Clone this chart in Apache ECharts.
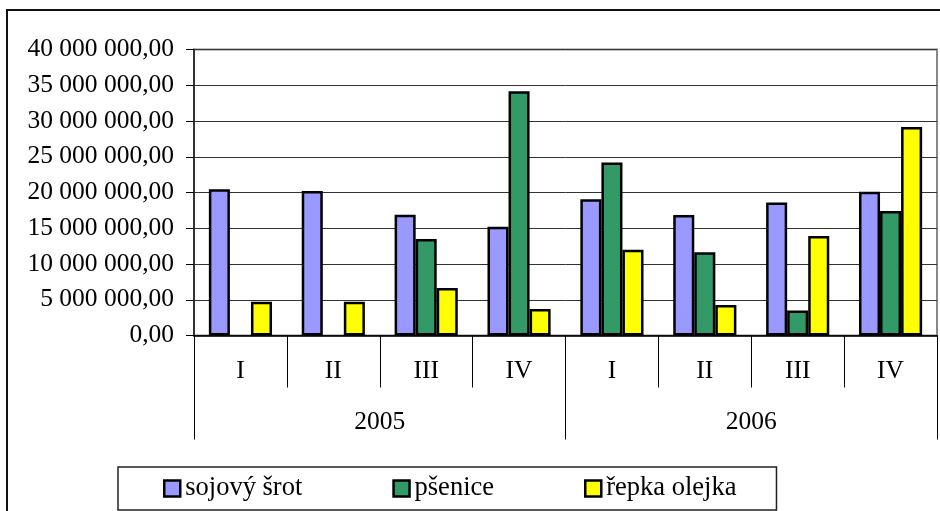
<!DOCTYPE html>
<html>
<head>
<meta charset="utf-8">
<script src="https://cdn.jsdelivr.net/npm/echarts@6/dist/echarts.min.js"></script>
<style>
html, body { margin: 0; padding: 0; background: #fff; }
#chart { width: 940px; height: 511px; }
</style>
</head>
<body>
<div id="chart"></div>
<script>
var quarters = ['I', 'II', 'III', 'IV', 'I', 'II', 'III', 'IV'];
var years = ['2005', '2006'];
var seriesNames = ['sojový šrot', 'pšenice', 'řepka olejka'];
var sojovySrot = [20450000, 20200000, 16900000, 15200000, 19050000, 16850000, 18600000, 20100000];
var psenice = [null, null, 13500000, 34150000, 24200000, 11650000, 3500000, 17400000];
var repkaOlejka = [4730000, 4730000, 6650000, 3700000, 12000000, 4250000, 13900000, 29150000];
var colors = ['#9999FF', '#339966', '#FFFF00'];

var font = "'Liberation Serif', 'Times New Roman', serif";
var fontSize = 25.5;

// 40000000 -> "40 000 000,00"
function formatValue(v) {
	var s = String(Math.round(v));
	var out = '';
	while (s.length > 3) {
		out = ' ' + s.slice(-3) + out;
		s = s.slice(0, -3);
	}
	return s + out + ',00';
}

var myChart = echarts.init(document.getElementById('chart'));

var dataList = [sojovySrot, psenice, repkaOlejka];
var series = [];
for (var i = 0; i < dataList.length; i++) {
	series.push({
		name: seriesNames[i],
		type: 'bar',
		xAxisIndex: 0,
		data: dataList[i],
		barGap: '0%',
		barCategoryGap: '32%',
		itemStyle: { color: colors[i], borderColor: '#000', borderWidth: 2.5 }
	});
}

var option = {
	animation: false,
	backgroundColor: '#fff',
	textStyle: { fontFamily: font, color: '#000' },
	graphic: [{
		type: 'rect',
		shape: { x: 7, y: 10, width: 1000, height: 1000 },
		style: { fill: 'none', stroke: '#111', lineWidth: 2 },
		z: -10
	}],
	grid: {
		left: 194,
		right: 3,
		top: 49.5,
		height: 286,
		show: true,
		borderColor: '#888',
		borderWidth: 2,
		backgroundColor: 'transparent'
	},
	legend: {
		left: 118,
		top: 467,
		width: 720,
		padding: [8, 40, 8, 45],
		borderColor: '#222',
		borderWidth: 1.5,
		itemWidth: 16,
		itemHeight: 16,
		itemGap: 90,
		icon: 'rect',
		itemStyle: { borderColor: '#000', borderWidth: 2.5 },
		textStyle: { fontFamily: font, fontSize: 26.5, color: '#000' },
		data: seriesNames
	},
	xAxis: [{
		type: 'category',
		data: quarters,
		position: 'bottom',
		axisLine: { lineStyle: { color: '#000', width: 1.5 } },
		axisTick: { show: true, interval: 0, length: 52, lineStyle: { color: '#000', width: 1 } },
		axisLabel: { interval: 0, margin: 23, fontFamily: font, fontSize: fontSize, color: '#000' },
		splitLine: { show: false }
	}, {
		type: 'category',
		data: years,
		position: 'bottom',
		offset: 0,
		axisLine: { show: false },
		axisTick: { show: true, interval: 0, length: 104, lineStyle: { color: '#000', width: 1 } },
		axisLabel: { interval: 0, margin: 74, fontFamily: font, fontSize: fontSize, color: '#000' },
		splitLine: { show: false }
	}],
	yAxis: {
		type: 'value',
		min: 0,
		max: 40000000,
		interval: 5000000,
		axisLine: { show: true, lineStyle: { color: '#333', width: 2 } },
		axisTick: { show: true, length: 8, lineStyle: { color: '#000' } },
		axisLabel: { margin: 20, fontFamily: font, fontSize: fontSize, color: '#000', formatter: formatValue },
		splitLine: { show: true, lineStyle: { color: '#333', width: 1 } }
	},
	series: series
};

myChart.setOption(option);
</script>
</body>
</html>
